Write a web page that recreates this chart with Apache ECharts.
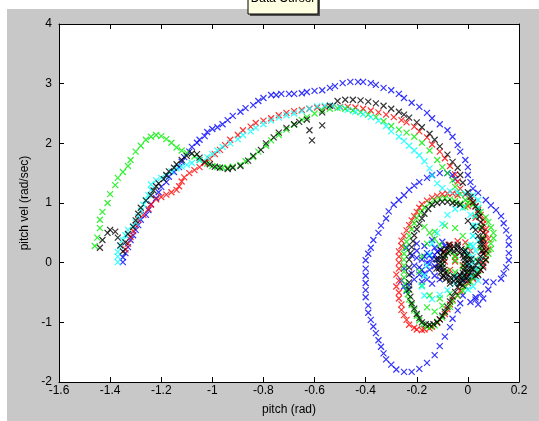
<!DOCTYPE html>
<html>
<head>
<meta charset="utf-8">
<script src="https://cdn.jsdelivr.net/npm/echarts@6/dist/echarts.min.js"></script>
<style>
  body { margin: 0; background: #fff; }
  #bg { position: absolute; left: 7px; top: 9px; width: 532px; height: 412px; background: #c8c8c8; }
  #chart { position: absolute; left: 0; top: 0; width: 539px; height: 421px; }
</style>
</head>
<body>
<div id="bg"></div>
<div id="chart"></div>
<script>
// axis ticks
var xTicks = [-1.6, -1.4, -1.2, -1, -0.8, -0.6, -0.4, -0.2, 0, 0.2];
var yTicks = [-2, -1, 0, 1, 2, 3, 4];

// phase trajectories [pitch, pitch vel]
var blueRun = [
  [-1.35,0.01],[-1.35,0.09],[-1.34,0.16],[-1.33,0.26],[-1.32,0.38],[-1.31,0.46],[-1.30,0.55],[-1.29,0.63],[-1.28,0.72],[-1.26,0.80],
  [-1.25,0.88],[-1.24,0.98],[-1.22,1.08],[-1.21,1.18],[-1.20,1.27],[-1.18,1.35],[-1.17,1.44],[-1.15,1.52],[-1.13,1.60],[-1.12,1.69],
  [-1.11,1.77],[-1.09,1.86],[-1.08,1.94],[-1.06,2.01],[-1.05,2.06],[-1.03,2.12],[-1.02,2.19],[-1.00,2.24],[-0.98,2.27],[-0.96,2.32],
  [-0.94,2.39],[-0.92,2.46],[-0.89,2.53],[-0.87,2.59],[-0.84,2.64],[-0.82,2.71],[-0.80,2.76],[-0.77,2.81],[-0.75,2.81],[-0.73,2.83],
  [-0.70,2.83],[-0.68,2.83],[-0.65,2.84],[-0.63,2.86],[-0.60,2.88],[-0.57,2.89],[-0.54,2.93],[-0.52,2.96],[-0.49,3.01],[-0.46,3.03],
  [-0.43,3.03],[-0.41,3.03],[-0.38,3.01],[-0.36,2.98],[-0.33,2.93],[-0.30,2.89],[-0.27,2.83],[-0.25,2.76],[-0.22,2.68],[-0.19,2.61],
  [-0.16,2.51],[-0.14,2.42],[-0.11,2.32],[-0.08,2.22],[-0.06,2.11],[-0.04,1.97],[-0.03,1.86],[-0.01,1.72],[0.00,1.60],[0.00,1.47],
  [0.01,1.35],[0.02,1.24],[0.04,1.17],[0.07,1.05],[0.09,0.96],[0.11,0.88],[0.13,0.78],[0.14,0.66],[0.15,0.54],[0.16,0.42],
  [0.16,0.30],[0.16,0.16],[0.16,0.04],[0.15,-0.08],[0.14,-0.18],[0.13,-0.27],[0.10,-0.33],[0.07,-0.32],[0.05,-0.52],[0.03,-0.58],
  [0.01,-0.66],[0.04,-0.70],[0.02,-0.25],[-0.01,-0.30],
  [-0.02,-0.55],[-0.03,-0.68],[-0.04,-0.80],[-0.06,-0.94],[-0.07,-1.08],[-0.09,-1.24],[-0.11,-1.40],[-0.13,-1.55],[-0.16,-1.68],[-0.19,-1.78],
  [-0.22,-1.83],[-0.25,-1.83],[-0.28,-1.79],[-0.30,-1.71],[-0.32,-1.62],[-0.33,-1.52],[-0.34,-1.41],[-0.35,-1.30],[-0.36,-1.18],[-0.37,-1.07],
  [-0.38,-0.96],[-0.39,-0.84],[-0.39,-0.72],[-0.40,-0.58],[-0.40,-0.46],[-0.40,-0.34],[-0.40,-0.22],[-0.40,-0.10],[-0.40,0.04],[-0.39,0.15],
  [-0.38,0.25],[-0.37,0.38],[-0.35,0.50],[-0.34,0.62],[-0.32,0.74],[-0.31,0.86],[-0.29,0.97],[-0.27,1.05],[-0.25,1.13],[-0.23,1.22],
  [-0.21,1.29],[-0.19,1.35],[-0.16,1.42],[-0.14,1.47],[-0.11,1.50],[-0.08,1.50],[-0.06,1.47],[-0.05,1.40],
  [-0.10,0.35],[-0.13,0.25],[-0.15,0.12],[-0.16,0.00],[-0.15,-0.12],[-0.13,-0.22],[-0.11,-0.28],[-0.18,0.05],[-0.19,-0.08],[-0.17,-0.18],
  [-0.12,0.05],[-0.11,-0.08],[-0.20,0.20],[-0.17,0.28],[-0.14,0.38],[-0.21,-0.28],[-0.23,-0.38],[-0.18,-0.32],[-0.25,-0.40],[-0.24,-0.47],
  [-0.09,0.28],[-0.12,0.18],[-0.14,0.06],[-0.13,-0.06],[-0.16,0.16],[-0.20,0.08],[-0.21,-0.05],[-0.19,-0.20],[-0.16,-0.28],[-0.14,-0.35],
  [-0.20,0.32],[-0.24,0.25],[-0.25,-0.10],[-0.26,-0.30],[0.03,-0.62],[0.06,-0.60],[0.08,-0.45],
  [-0.17,0.10],[-0.15,-0.02],[-0.18,-0.12],[-0.13,0.13],[-0.11,0.22],[-0.22,0.12],[-0.22,-0.18]
];
var redRun = [
  [-1.34,0.22],[-1.33,0.32],[-1.32,0.43],[-1.31,0.53],[-1.30,0.63],[-1.29,0.72],[-1.27,0.80],[-1.25,0.90],[-1.24,0.97],[-1.22,1.06],
  [-1.20,1.10],[-1.18,1.14],[-1.16,1.18],[-1.14,1.22],[-1.13,1.28],[-1.12,1.36],[-1.11,1.43],[-1.09,1.50],[-1.07,1.55],[-1.05,1.60],
  [-1.03,1.67],[-1.01,1.74],[-0.99,1.82],[-0.97,1.89],[-0.95,1.97],[-0.93,2.06],[-0.90,2.14],[-0.88,2.22],[-0.85,2.28],[-0.83,2.34],
  [-0.80,2.38],[-0.77,2.42],[-0.74,2.47],[-0.71,2.51],[-0.68,2.54],[-0.65,2.56],[-0.62,2.58],[-0.59,2.60],[-0.56,2.61],[-0.53,2.62],
  [-0.50,2.61],[-0.47,2.61],[-0.44,2.60],[-0.41,2.58],[-0.38,2.55],[-0.35,2.52],[-0.32,2.48],[-0.29,2.44],[-0.26,2.39],[-0.24,2.35],
  [-0.21,2.28],[-0.19,2.20],[-0.16,2.10],[-0.14,1.98],[-0.11,1.86],[-0.09,1.75],[-0.07,1.62],[-0.05,1.48],[-0.04,1.36],[-0.03,1.24],
  [-0.01,1.14],[0.01,1.05],[0.03,0.95],[0.05,0.80],[0.06,0.65],[0.07,0.48],[0.07,0.30],[0.07,0.12],[0.06,-0.05],[0.04,-0.20],
  [0.00,-0.34],[-0.03,-0.47],[-0.06,-0.62],[-0.08,-0.78],[-0.11,-0.95],[-0.14,-1.07],[-0.17,-1.12],[-0.20,-1.12],[-0.23,-1.04],[-0.25,-0.88],
  [-0.26,-0.70],[-0.27,-0.50],[-0.27,-0.30],[-0.27,-0.10],[-0.27,0.10],[-0.26,0.28],[-0.25,0.45],[-0.23,0.63],[-0.21,0.78],[-0.19,0.92],
  [-0.16,1.04],[-0.12,1.12],[-0.08,1.16],[-0.04,1.13],
  [0.02,1.00],[0.04,0.88],[0.06,0.72],[0.07,0.56],[0.08,0.40],[0.08,0.22],[0.07,0.04],[0.05,-0.12],[0.02,-0.27],[-0.01,-0.40],
  [-0.04,-0.55],[-0.07,-0.70],[-0.09,-0.86],[-0.12,-1.01],[-0.15,-1.10],[-0.18,-1.13],[-0.21,-1.09],[-0.24,-0.96],[-0.26,-0.79],[-0.27,-0.60],
  [-0.28,-0.40],[-0.28,-0.20],[-0.27,0.00],[-0.27,0.19],[-0.26,0.37],[-0.24,0.54],[-0.22,0.71],[-0.20,0.85],[-0.18,0.98],[-0.14,1.09],
  [-0.10,1.15],[-0.06,1.16],
  [0.00,0.95],[0.03,0.75],[0.05,0.55],[0.06,0.38],[0.06,0.20],[0.05,0.02],[0.03,-0.12],[0.00,-0.20],[-0.03,-0.22],[-0.07,-0.12],
  [-0.09,0.02],[-0.09,0.18],[-0.07,0.30],[-0.04,0.36],[-0.01,0.34],[0.01,0.20],[0.01,0.06],[-0.02,-0.04],[-0.05,0.02],[-0.05,0.10]
];
var greenRun = [
  [-1.46,0.28],[-1.45,0.42],[-1.44,0.58],[-1.44,0.72],[-1.43,0.85],[-1.41,1.00],[-1.40,1.15],[-1.38,1.30],[-1.37,1.42],[-1.35,1.52],
  [-1.33,1.62],[-1.32,1.72],[-1.30,1.86],[-1.28,1.96],[-1.26,2.06],[-1.24,2.11],[-1.22,2.14],[-1.20,2.12],[-1.18,2.07],[-1.16,2.01],
  [-1.14,1.93],[-1.12,1.88],[-1.10,1.84],[-1.07,1.78],[-1.05,1.72],[-1.02,1.66],[-1.00,1.62],[-0.98,1.60],[-0.96,1.59],[-0.94,1.59],
  [-0.92,1.61],[-0.89,1.64],[-0.87,1.70],[-0.84,1.77],[-0.82,1.86],[-0.79,1.96],[-0.77,2.05],[-0.74,2.14],[-0.71,2.23],[-0.68,2.31],
  [-0.65,2.39],[-0.63,2.44],[-0.60,2.50],[-0.57,2.55],[-0.54,2.58],[-0.51,2.59],[-0.48,2.58],[-0.45,2.55],[-0.42,2.52],[-0.39,2.48],
  [-0.36,2.44],[-0.33,2.37],[-0.30,2.29],[-0.27,2.23],[-0.24,2.18],[-0.21,2.11],[-0.18,2.01],[-0.15,1.88],[-0.12,1.72],[-0.10,1.60],
  [-0.08,1.50],[-0.06,1.38],[-0.05,1.27],[-0.03,1.15],[-0.01,1.05],[0.02,0.97],[0.05,0.85],[0.08,0.68],[0.10,0.50],[0.09,0.32],
  [0.08,0.15],[0.05,-0.05],[0.02,-0.24],[-0.01,-0.40],[-0.04,-0.55],[-0.07,-0.74],[-0.10,-0.92],[-0.13,-1.05],[-0.16,-1.07],[-0.19,-0.97],
  [-0.21,-0.80],[-0.23,-0.62],[-0.24,-0.45],[-0.25,-0.25],[-0.25,-0.05],[-0.25,0.15],[-0.24,0.35],[-0.22,0.56],[-0.20,0.75],[-0.17,0.92],
  [-0.13,1.04],[-0.09,1.08],[-0.05,1.03],[-0.01,0.93],[0.03,0.78],[0.05,0.60],[0.06,0.42],[0.05,0.25],[0.03,0.05],[0.00,-0.15],
  [-0.03,-0.35],[-0.07,-0.52],[-0.11,-0.60],[-0.15,-0.55],[-0.18,-0.38],[-0.19,-0.15],[-0.18,0.10],[-0.16,0.32],[-0.13,0.52],[-0.09,0.62],
  [-0.05,0.58],[-0.02,0.45],[0.00,0.28],[0.00,0.10],[-0.02,-0.06],[-0.05,-0.16],[-0.08,-0.14],[-0.10,-0.02],[-0.09,0.12],[-0.07,0.18],
  [-0.05,0.12],[-0.05,0.04],
  [0.00,1.01],[0.04,0.91],[0.07,0.76],[0.09,0.59],[0.10,0.41],[0.09,0.23],[0.07,0.05],[0.04,-0.14],[0.01,-0.32],[-0.02,-0.47],
  [-0.06,-0.64],[-0.09,-0.83],[-0.12,-0.99],[-0.145,-1.07],[-0.175,-1.03],[-0.20,-0.89],[-0.22,-0.71],[-0.235,-0.53],[-0.245,-0.35],[-0.25,-0.15],
  [-0.25,0.05],[-0.245,0.25],[-0.23,0.45],[-0.21,0.66],[-0.185,0.84],[-0.15,0.99],[-0.11,1.07],[-0.07,1.06],[-0.03,0.99],
  [-0.17,0.60],[-0.15,0.50],[-0.13,0.40],[-0.11,0.30],[-0.16,-0.75],[-0.13,-0.82],[-0.10,-0.72]
];
var cyanRun = [
  [-1.37,0.01],[-1.37,0.10],[-1.37,0.18],[-1.36,0.28],[-1.35,0.38],[-1.34,0.46],[-1.33,0.55],[-1.31,0.61],[-1.30,0.67],[-1.29,0.77],
  [-1.28,0.87],[-1.27,0.97],[-1.26,1.05],[-1.25,1.13],[-1.24,1.22],[-1.24,1.31],[-1.22,1.38],[-1.20,1.42],[-1.18,1.46],[-1.16,1.53],
  [-1.14,1.58],[-1.12,1.61],[-1.10,1.64],[-1.08,1.67],[-1.05,1.72],[-1.02,1.77],[-1.00,1.82],[-0.98,1.88],[-0.96,1.94],[-0.93,2.00],
  [-0.90,2.07],[-0.88,2.14],[-0.85,2.20],[-0.83,2.26],[-0.80,2.32],[-0.77,2.38],[-0.74,2.43],[-0.71,2.47],[-0.68,2.50],[-0.65,2.54],
  [-0.62,2.58],[-0.59,2.62],[-0.56,2.63],[-0.53,2.63],[-0.50,2.60],[-0.47,2.56],[-0.44,2.53],[-0.41,2.49],[-0.38,2.44],[-0.35,2.38],
  [-0.32,2.29],[-0.30,2.20],[-0.27,2.11],[-0.25,2.04],[-0.23,1.96],[-0.21,1.88],[-0.19,1.80],[-0.17,1.70],[-0.15,1.58],[-0.14,1.46],
  [-0.12,1.33],[-0.10,1.25],[-0.07,1.20],[-0.04,1.18],[-0.01,1.16],[0.02,1.13],[0.04,1.05],[0.04,0.92],[0.03,0.78],[0.03,0.62],
  [0.02,0.45],[0.02,0.28],[0.02,0.10],[0.01,-0.06],[-0.02,-0.22],[-0.05,-0.35],[-0.08,-0.46],[-0.11,-0.54],[-0.14,-0.61],[-0.17,-0.55],
  [-0.18,-0.40],[-0.17,-0.22],[-0.16,-0.05],[-0.15,0.14],[-0.14,0.32],[-0.12,0.50],[-0.10,0.65],[-0.08,0.80],[-0.05,0.90],[-0.02,0.92],
  [0.01,0.80],[0.02,0.62],[0.02,0.45],[0.01,0.30],[0.00,0.15],[0.02,0.02],[0.03,-0.10],[0.01,-0.22],[-0.02,-0.28],[-0.05,-0.24],
  [0.03,0.20],[0.04,0.36],[0.03,-0.15],[0.04,-0.30],[0.02,-0.40],[0.00,-0.45],[0.05,0.05],[0.05,-0.05],[-0.01,0.18],[0.00,0.00]
];
var blackRun = [
  [-1.44,0.25],[-1.43,0.38],[-1.41,0.50],[-1.40,0.55],[-1.38,0.52],[-1.37,0.42],[-1.36,0.29],[-1.35,0.19],[-1.34,0.34],[-1.33,0.48],
  [-1.31,0.60],[-1.30,0.71],[-1.29,0.82],[-1.28,0.92],[-1.26,1.04],[-1.24,1.13],[-1.23,1.21],[-1.22,1.28],[-1.21,1.33],[-1.19,1.40],
  [-1.18,1.47],[-1.17,1.53],[-1.15,1.59],[-1.14,1.65],[-1.12,1.72],[-1.10,1.79],[-1.08,1.83],[-1.06,1.82],[-1.05,1.76],[-1.03,1.69],
  [-1.01,1.65],[-0.99,1.61],[-0.97,1.59],[-0.94,1.57],[-0.92,1.59],[-0.89,1.62],[-0.86,1.71],[-0.84,1.79],[-0.81,1.89],[-0.79,2.00],
  [-0.76,2.10],[-0.74,2.18],[-0.71,2.26],[-0.68,2.32],[-0.66,2.36],[-0.63,2.40],[-0.62,2.22],[-0.61,2.05],[-0.57,2.30],[-0.57,2.52],
  [-0.54,2.63],[-0.51,2.71],[-0.48,2.73],[-0.45,2.73],[-0.42,2.72],[-0.39,2.70],[-0.36,2.67],[-0.33,2.63],[-0.30,2.58],[-0.27,2.53],
  [-0.25,2.48],[-0.23,2.43],[-0.20,2.35],[-0.18,2.27],[-0.15,2.16],[-0.13,2.06],[-0.11,1.95],[-0.08,1.81],[-0.06,1.69],[-0.04,1.59],
  [-0.03,1.47],[-0.02,1.34],[0.00,1.18],[0.02,1.02],[0.04,0.85],[0.05,0.68],[0.06,0.50],[0.06,0.30],[0.05,0.10],[0.03,-0.05],
  [0.01,-0.17],[-0.02,-0.29],[-0.04,-0.41],[-0.06,-0.57],[-0.08,-0.74],[-0.10,-0.89],[-0.12,-1.00],[-0.15,-1.04],[-0.18,-1.00],[-0.20,-0.86],
  [-0.22,-0.68],[-0.23,-0.45],[-0.23,-0.20],[-0.23,0.05],[-0.22,0.26],[-0.21,0.46],[-0.19,0.65],[-0.17,0.82],[-0.14,0.97],[-0.10,1.02],
  [-0.06,1.00],[-0.03,0.97],
  [0.01,1.10],[0.03,0.94],[0.045,0.77],[0.055,0.59],[0.06,0.40],[0.055,0.20],[0.04,0.02],[0.02,-0.11],[0.00,-0.23],[-0.03,-0.35],
  [-0.05,-0.49],[-0.07,-0.65],[-0.09,-0.82],[-0.11,-0.95],[-0.135,-1.03],[-0.165,-1.03],[-0.19,-0.93],[-0.21,-0.77],[-0.225,-0.57],[-0.23,-0.33],
  [-0.23,-0.08],[-0.225,0.16],[-0.215,0.36],[-0.20,0.56],[-0.18,0.74],[-0.155,0.90],[-0.12,1.00],[-0.08,1.02],[-0.045,0.99],
  [0.005,-0.02],[-0.003,0.125],[-0.025,0.23],[-0.055,0.27],[-0.085,0.23],[-0.107,0.125],[-0.115,-0.02],[-0.107,-0.165],[-0.085,-0.27],[-0.055,-0.31],
  [-0.025,-0.27],[-0.003,-0.165],
  [0.003,0.055],[-0.015,0.185],[-0.04,0.26],[-0.07,0.26],[-0.095,0.185],[-0.113,0.055],[-0.113,-0.095],[-0.095,-0.225],[-0.07,-0.30],[-0.04,-0.30],
  [-0.015,-0.225],[0.003,-0.095],
  [-0.01,-0.02],[-0.016,0.085],[-0.032,0.16],[-0.055,0.19],[-0.078,0.16],[-0.094,0.085],[-0.10,-0.02],[-0.094,-0.125],[-0.078,-0.20],[-0.055,-0.23],
  [-0.032,-0.20],[-0.016,-0.125],
  [0.013,0.06],[-0.01,0.21],[-0.04,0.30],[-0.075,0.30],[-0.105,0.21],[-0.125,0.06],[-0.123,-0.10],[-0.10,-0.25],[-0.07,-0.35],[-0.035,-0.35],
  [-0.005,-0.25],[0.013,-0.10],
  [-0.012,0.04],[-0.02,0.13],[-0.042,0.21],[-0.068,0.21],[-0.09,0.13],[-0.098,0.04],[-0.098,-0.08],[-0.09,-0.17],[-0.068,-0.25],[-0.042,-0.25],
  [-0.02,-0.17],[-0.012,-0.08],
  [0.02,0.60],[0.04,0.45],[0.05,0.30],[0.06,0.15],[0.06,0.00],[0.05,-0.12],[0.03,-0.22],[0.00,-0.30],[-0.02,-0.38],[0.00,0.70],
  [0.03,0.55],[0.05,0.38],[0.07,0.20],[0.07,0.05],[0.06,-0.08],[0.04,-0.20]
];

var crossMark = 'path://M0,0L10,10M10,0L0,10';
var baseFont = 'Liberation Sans, Arial, sans-serif';

function runSeries(name, data, color) {
    return {
        name: name,
        type: 'scatter',
        data: data,
        symbol: crossMark,
        symbolSize: 6,
        silent: true,
        itemStyle: {
            color: 'rgba(0,0,0,0)',
            borderColor: color,
            borderWidth: 1.2,
            opacity: 0.8
        }
    };
}

function tickText(v) {
    return String(Math.round(v * 10) / 10);
}

var myChart = echarts.init(document.getElementById('chart'));

var option = {
    animation: false,
    backgroundColor: 'transparent',
    textStyle: { fontFamily: baseFont },
    grid: {
        left: 59, right: 20, top: 24, bottom: 39,
        show: true, backgroundColor: '#ffffff', borderWidth: 0
    },
    xAxis: [{
        type: 'value',
        position: 'bottom',
        min: xTicks[0], max: xTicks[xTicks.length - 1], interval: 0.2,
        name: 'pitch (rad)',
        nameLocation: 'middle',
        nameGap: 22,
        nameTextStyle: { color: '#000', fontSize: 12, fontFamily: baseFont },
        axisLine: { onZero: false, lineStyle: { color: '#000', width: 1 } },
        axisTick: { inside: true, length: 5, lineStyle: { color: '#000' } },
        axisLabel: { color: '#000', fontSize: 12, margin: 3, fontFamily: baseFont, formatter: tickText },
        splitLine: { show: false }
    }, {
        type: 'value',
        position: 'top',
        min: xTicks[0], max: xTicks[xTicks.length - 1], interval: 0.2,
        axisLine: { onZero: false, lineStyle: { color: '#000', width: 1 } },
        axisTick: { inside: true, length: 5, lineStyle: { color: '#000' } },
        axisLabel: { show: false },
        splitLine: { show: false }
    }],
    yAxis: [{
        type: 'value',
        position: 'left',
        min: yTicks[0], max: yTicks[yTicks.length - 1], interval: 1,
        name: 'pitch vel (rad/sec)',
        nameLocation: 'middle',
        nameGap: 25,
        nameTextStyle: { color: '#000', fontSize: 12, fontFamily: baseFont },
        axisLine: { onZero: false, lineStyle: { color: '#000', width: 1 } },
        axisTick: { inside: true, length: 5, lineStyle: { color: '#000' } },
        axisLabel: { color: '#000', fontSize: 12, margin: 7, fontFamily: baseFont, formatter: tickText },
        splitLine: { show: false }
    }, {
        type: 'value',
        position: 'right',
        min: yTicks[0], max: yTicks[yTicks.length - 1], interval: 1,
        axisLine: { onZero: false, lineStyle: { color: '#000', width: 1 } },
        axisTick: { inside: true, length: 5, lineStyle: { color: '#000' } },
        axisLabel: { show: false },
        splitLine: { show: false }
    }],
    graphic: [{
        type: 'group',
        x: 248,
        y: -5,
        children: [{
            type: 'rect',
            shape: { x: 2, y: 2, width: 70, height: 19 },
            style: { fill: '#505050' }
        }, {
            type: 'rect',
            shape: { x: 0, y: 0, width: 70, height: 19 },
            style: { fill: '#ffffe1', stroke: '#000', lineWidth: 1 }
        }, {
            type: 'text',
            x: 35, y: 4,
            style: {
                text: 'Data Cursor',
                fill: '#000',
                font: '12px ' + baseFont,
                align: 'center',
                verticalAlign: 'middle'
            }
        }]
    }],
    series: [
        runSeries('trial 1', blueRun, '#0000ff'),
        runSeries('trial 2', redRun, '#ff0000'),
        runSeries('trial 3', greenRun, '#00ee00'),
        runSeries('trial 4', cyanRun, '#00ffff'),
        runSeries('trial 5', blackRun, '#000000')
    ]
};

myChart.setOption(option);
</script>
</body>
</html>
